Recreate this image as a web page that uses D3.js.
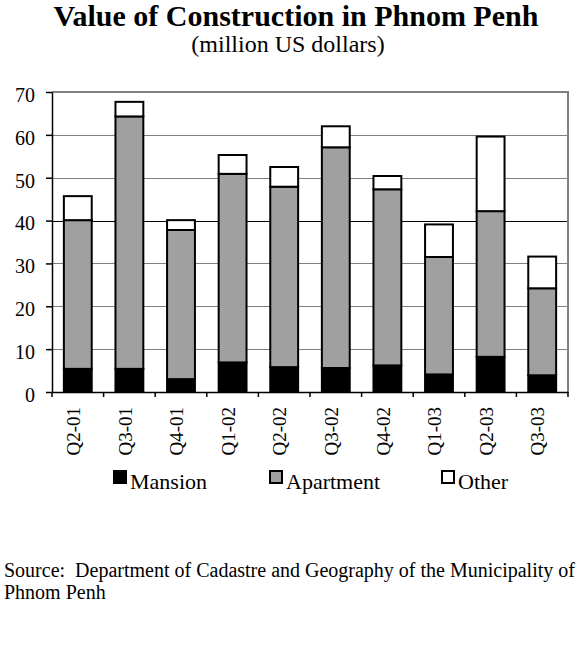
<!DOCTYPE html>
<html>
<head>
<meta charset="utf-8">
<script src="https://cdn.jsdelivr.net/npm/d3@7"></script>
<style>
	body { margin:0; background:#fff; }
	text { font-family:"Liberation Serif","Times New Roman",serif; fill:#000; }
</style>
</head>
<body>
<div id="chart"></div>
<script>
// quarters on the x axis
var quarters = ['Q2-01','Q3-01','Q4-01','Q1-02','Q2-02','Q3-02','Q4-02','Q1-03','Q2-03','Q3-03']
// million US dollars
var mansion   = [5.4, 5.4, 3.0, 6.9, 5.8, 5.6, 6.2, 4.1, 8.2, 3.9]
var apartment = [34.7, 58.9, 34.8, 44.0, 42.1, 51.5, 41.1, 27.4, 34.0, 20.3]
var other     = [5.6, 3.4, 2.3, 4.4, 4.6, 4.9, 3.1, 7.6, 17.4, 7.4]
var series_names = ['Mansion','Apartment','Other']
var y_ticks = [0,10,20,30,40,50,60,70]

var init = function(domelement){
	var settings = {
		'width':588,
		'height':646,
		'margin':{'top':92,'bottom':254,'left':52,'right':20}
	}
	var inner_w = settings.width - settings.margin.left - settings.margin.right
	var inner_h = settings.height - settings.margin.top - settings.margin.bottom
	var colors = {'Mansion':'#000','Apartment':'#a0a0a0','Other':'#fff'}
	var serif = '"Liberation Serif","Times New Roman",serif'

	var rows = quarters.map(function(q,i){
		return {'quarter':q,'Mansion':mansion[i],'Apartment':apartment[i],'Other':other[i]}
	})
	var stacked = d3.stack().keys(series_names)(rows)

	var x = d3.scaleBand()
		.domain(quarters)
		.range([0, inner_w])
		.paddingInner(0.46)
		.paddingOuter(0.23)
	var y = d3.scaleLinear()
		.domain([0,70])
		.range([inner_h, 0])

	var svg = d3.select(domelement).append('svg')
		.attr('width',settings.width)
		.attr('height',settings.height)

	svg.append('text')
		.attr('x',296).attr('y',26)
		.attr('text-anchor','middle')
		.style('font-size','30px').style('font-weight','bold')
		.text('Value of Construction in Phnom Penh')
	svg.append('text')
		.attr('x',288).attr('y',52)
		.attr('text-anchor','middle')
		.style('font-size','24px')
		.text('(million US dollars)')

	var g = svg.append('g')
		.attr('transform','translate('+settings.margin.left+','+settings.margin.top+')')

	// gridlines
	g.append('g').selectAll('line')
		.data(y_ticks.filter(function(d){ return d > 0 && d < 70 }))
		.enter().append('line')
		.attr('x1',0).attr('x2',inner_w)
		.attr('y1',function(d){ return Math.round(y(d)) + 0.5 })
		.attr('y2',function(d){ return Math.round(y(d)) + 0.5 })
		.attr('stroke',function(d){ return d == 40 ? '#000' : '#808080' })
		.attr('stroke-width',1)

	// plot border top/right
	g.append('path')
		.attr('d','M0,'+y(70)+'H'+inner_w+'V'+inner_h)
		.attr('fill','none')
		.attr('stroke','#808080')
		.attr('stroke-width',2)

	// bars
	var layers = g.append('g').selectAll('g')
		.data(stacked)
		.enter().append('g')
		.attr('fill',function(d){ return colors[d.key] })
	layers.selectAll('rect')
		.data(function(d){ return d })
		.enter().append('rect')
		.attr('x',function(d){ return x(d.data.quarter) })
		.attr('width',x.bandwidth())
		.attr('y',function(d){ return y(d[1]) })
		.attr('height',function(d){ return y(d[0]) - y(d[1]) })
		.attr('stroke','#000')
		.attr('stroke-width',2)

	// y axis
	var y_axis = g.append('g')
		.attr('font-family',serif)
		.call(d3.axisLeft(y).tickValues(y_ticks).tickSizeInner(6).tickSizeOuter(0).tickPadding(11))
	y_axis.select('.domain').attr('stroke','#000').attr('stroke-width',1.5)
	y_axis.selectAll('.tick line').attr('stroke','#000').attr('stroke-width',1.5)
	y_axis.selectAll('text')
		.style('font-size','20px')
		.style('font-family',serif)
		.attr('dy','0.47em')

	// x axis: labels at centres, ticks at category boundaries
	var x_axis = g.append('g')
		.attr('font-family',serif)
		.attr('transform','translate(0,'+inner_h+')')
		.call(d3.axisBottom(x).tickSize(0).tickPadding(0))
	x_axis.select('.domain').attr('stroke','#000').attr('stroke-width',1.5)
	x_axis.selectAll('text')
		.style('font-size','19px')
		.style('font-family',serif)
		.attr('transform','rotate(-90)')
		.attr('text-anchor','end')
		.attr('x',-15)
		.attr('y',0)
		.attr('dy','0.12em')
	var boundaries = quarters.map(function(q){ return x(q) - x.step()*x.paddingInner()/2 })
	boundaries.push(inner_w)
	x_axis.append('g').selectAll('line')
		.data(boundaries)
		.enter().append('line')
		.attr('x1',function(d){ return d }).attr('x2',function(d){ return d })
		.attr('y1',0).attr('y2',5)
		.attr('stroke','#000').attr('stroke-width',1.5)

	// legend
	var legend_x = [113, 269, 441]
	var legend = svg.append('g').selectAll('g')
		.data(series_names)
		.enter().append('g')
		.attr('transform',function(d,i){ return 'translate('+legend_x[i]+',470)' })
	legend.append('rect')
		.attr('x',1).attr('y',1)
		.attr('width',12).attr('height',12)
		.attr('fill',function(d){ return colors[d] })
		.attr('stroke','#000').attr('stroke-width',2)
	legend.append('text')
		.attr('x',17).attr('y',19)
		.style('font-size','22px')
		.style('font-family',serif)
		.text(function(d){ return d })

	// source note
	var note = svg.append('text')
		.style('font-size','20px')
		.style('font-family',serif)
		.style('white-space','pre')
	note.append('tspan').attr('x',4).attr('y',577)
		.text('Source:  Department of Cadastre and Geography of the Municipality of')
	note.append('tspan').attr('x',4).attr('y',599)
		.text('Phnom Penh')
}

init('#chart')
</script>
</body>
</html>
